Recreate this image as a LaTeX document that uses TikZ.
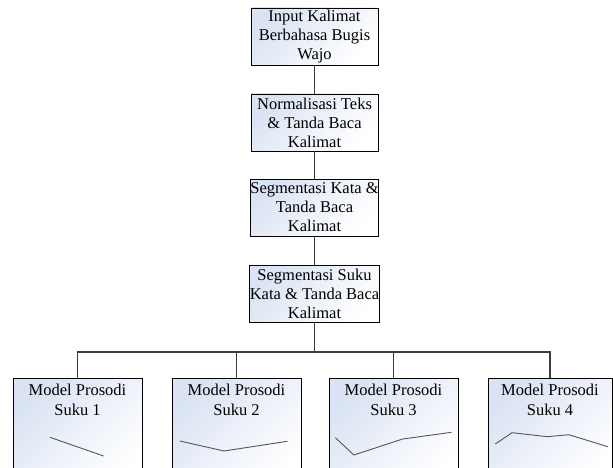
\documentclass[tikz,border=0pt]{standalone}
\usepackage{fontspec}
\setmainfont{Liberation Serif}
\definecolor{boxblue}{RGB}{218,227,243}
\definecolor{conn}{RGB}{60,60,60}
\definecolor{curve}{RGB}{85,85,85}
\tikzset{
  boxstyle/.style={draw=black, line width=0.8pt, top color=boxblue, bottom color=white,
    shading angle=45, align=center, inner sep=0pt,
    font=\fontsize{16.5}{19}\selectfont},
  topbox/.style={boxstyle, minimum width=127pt, minimum height=57pt},
  botbox/.style={boxstyle, minimum width=129pt, minimum height=110pt, anchor=north},
  lbl/.style={align=center, inner sep=0pt, anchor=north, font=\fontsize{16.5}{20}\selectfont},
  conline/.style={draw=conn, line width=1.1pt},
  contour/.style={draw=curve, line width=0.9pt}
}
\begin{document}
\begin{tikzpicture}[x=1pt,y=-1pt]
\useasboundingbox (0,0) rectangle (613,468);
\clip (0,0) rectangle (613,468);

% main column
\node[topbox] (b1) at (314.5,36.5) {Input Kalimat\\Berbahasa Bugis\\Wajo};
\node[topbox] (b2) at (314.5,122.5) {Normalisasi Teks\\\& Tanda Baca\\Kalimat};
\node[topbox] (b3) at (314.5,207.5) {Segmentasi Kata \&\\Tanda Baca\\Kalimat};
\node[topbox] (b4) at (314.5,293.5) {Segmentasi Suku\\Kata \& Tanda Baca\\Kalimat};

% bottom boxes
\node[botbox] (m1) at (77.5,378) {};
\node[botbox] (m2) at (236.5,378) {};
\node[botbox] (m3) at (393.5,378) {};
\node[botbox, minimum width=124pt] (m4) at (550,378) {};

\node[lbl] (t1) at ([yshift=-6pt]m1.north) {Model Prosodi\\Suku 1};
\node[lbl] (t2) at ([yshift=-6pt]m2.north) {Model Prosodi\\Suku 2};
\node[lbl] (t3) at ([yshift=-6pt]m3.north) {Model Prosodi\\Suku 3};
\node[lbl] (t4) at ([yshift=-6pt]m4.north) {Model Prosodi\\Suku 4};

% connectors
\draw[conline] (b1) -- (b2);
\draw[conline] (b2) -- (b3);
\draw[conline] (b3) -- (b4);
\coordinate (bus) at (314.5,352);
\draw[conline] (b4.south) -- (bus);
\draw[conline] (m1.north) |- (bus);
\draw[conline] (m4.north) |- (bus);
\draw[conline] (m2.north) -- (m2.north |- bus);
\draw[conline] (m3.north) -- (m3.north |- bus);

% prosody contours
\draw[contour] (50,437.3) -- (103.6,456);
\draw[contour] (179.8,441) -- (224,451) -- (287.3,441.3);
\draw[contour] (335.4,437.7) -- (353.8,455) -- (402.7,439) -- (451.5,432.3);
\draw[contour] (495.3,444) -- (512.1,432.7) -- (547.3,436.7) -- (568.8,434.7) -- (607.9,446.7);
\end{tikzpicture}
\end{document}
